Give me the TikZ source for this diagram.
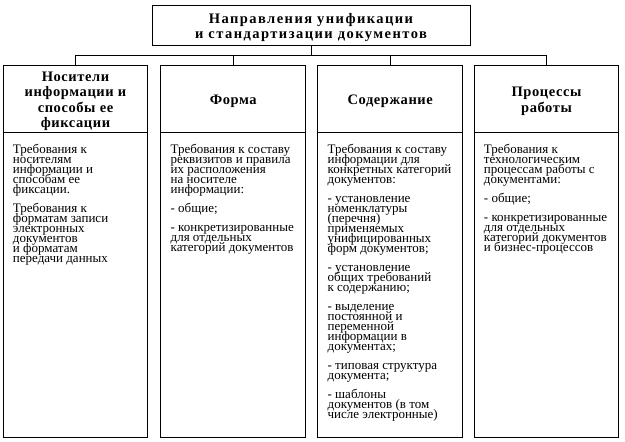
\documentclass[tikz,border=0pt]{standalone}
\usepackage{fontspec}
\setmainfont{Liberation Serif}
\newfontfamily\titlefont{Liberation Serif}[LetterSpace=10]
\newfontfamily\headfont{Liberation Serif}[LetterSpace=4]
\setlength{\lineskiplimit}{-20pt}
\newcommand\topstrut{\rule{0pt}{15pt}}
\begin{document}
\begin{tikzpicture}[x=1pt,y=-1pt,
  box/.style={draw,line width=1pt,rectangle,inner sep=0pt},
  headbox/.style={box,minimum width=144.5pt,minimum height=67pt,align=center,
    font=\headfont\fontsize{14.5}{15.2}\selectfont\bfseries},
  bodybox/.style={box,minimum width=144.5pt,minimum height=305pt},
  bodytext/.style={anchor=north west,inner sep=0pt,align=left,
    font=\fontsize{13}{10}\selectfont},
  conn/.style={line width=0.9pt}]
\useasboundingbox (0,0) rectangle (625,442);
\node[box,minimum width=318pt,minimum height=40pt,align=center,
  font=\titlefont\fontsize{14.5}{15}\selectfont\bfseries] (top) at (311,25)
  {\topstrut Направления унификации\\и стандартизации документов};
\foreach \i/\cx in {1/75.5,2/233.2,3/390.2,4/546.5}{
  \node[bodybox] (b\i) at (\cx,284.5) {};
}
\node[headbox] (h1) at (75.5,98.5) {\topstrut Носители\\информации и\\способы ее\\фиксации};
\node[headbox] (h2) at (233.2,98.5) {\topstrut Форма};
\node[headbox] (h3) at (390.2,98.5) {\topstrut Содержание};
\node[headbox] (h4) at (546.5,98.5) {\topstrut Процессы\\работы};
\coordinate (bar) at (311,55);
\draw[conn] (top.south) -- (bar);
\draw[conn] (h1.north |- bar) -- (h4.north |- bar);
\foreach \i in {1,2,3,4}{\draw[conn] (h\i.north |- bar) -- (h\i.north);}
\node[bodytext] (t1) at ([xshift=10pt,yshift=-12.5pt]b1.north west)
 {Требования к\\носителям\\информации и\\способам ее\\фиксации.\\[9pt]
  Требования к\\форматам записи\\электронных\\документов\\и форматам\\передачи данных};
\node[bodytext] (t2) at ([xshift=10pt,yshift=-12.5pt]b2.north west)
 {Требования к составу\\реквизитов и правила\\их расположения\\на носителе\\информации:\\[9pt]
  - общие;\\[9pt]
  - конкретизированные\\для отдельных\\категорий документов};
\node[bodytext] (t3) at ([xshift=10pt,yshift=-12.5pt]b3.north west)
 {Требования к составу\\информации для\\конкретных категорий\\документов:\\[9pt]
  - установление\\номенклатуры\\(перечня)\\применяемых\\унифицированных\\форм документов;\\[9pt]
  - установление\\общих требований\\к содержанию;\\[9pt]
  - выделение\\постоянной и\\переменной\\информации в\\документах;\\[9pt]
  - типовая структура\\документа;\\[9pt]
  - шаблоны\\документов (в том\\числе электронные)};
\node[bodytext] (t4) at ([xshift=10pt,yshift=-12.5pt]b4.north west)
 {Требования к\\технологическим\\процессам работы с\\документами:\\[9pt]
  - общие;\\[9pt]
  - конкретизированные\\для отдельных\\категорий документов\\и бизнес-процессов};
\end{tikzpicture}
\end{document}
